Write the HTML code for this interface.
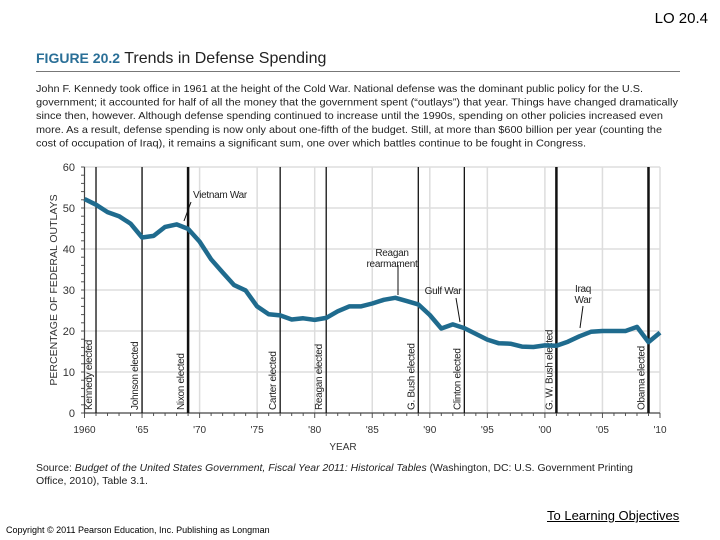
<!DOCTYPE html>
<html><head><meta charset="utf-8"><style>
body{margin:0;width:720px;height:540px;background:#fff;position:relative;overflow:hidden;font-family:"Liberation Sans",sans-serif}
.abs{position:absolute}
</style></head><body>
<div class="abs" style="right:12px;top:10px;font-size:15px;color:#000">LO 20.4</div>
<div class="abs" style="left:36px;top:50px;font-size:16px"><b style="color:#2a6f97;font-size:14px">FIGURE 20.2</b> <span style="color:#222">Trends in Defense Spending</span></div>
<div class="abs" style="left:36px;top:71px;width:644px;height:1px;background:#777"></div>
<svg class="abs" style="left:0;top:0" width="720" height="540" id="chart"></svg>
<div class="abs" style="left:547px;top:508px;font-size:13px;text-decoration:underline;color:#000">To Learning Objectives</div>
<div class="abs" style="left:6px;top:525px;font-size:9px;color:#000">Copyright © 2011 Pearson Education, Inc. Publishing as Longman</div>
<script>
const years=[1960,1961,1962,1963,1964,1965,1966,1967,1968,1969,1970,1971,1972,1973,1974,1975,1976,1977,1978,1979,1980,1981,1982,1983,1984,1985,1986,1987,1988,1989,1990,1991,1992,1993,1994,1995,1996,1997,1998,1999,2000,2001,2002,2003,2004,2005,2006,2007,2008,2009,2010];
const pct=[52.2,50.8,49.0,48.0,46.2,42.8,43.2,45.4,46.0,44.9,41.8,37.5,34.3,31.2,29.9,26.0,24.1,23.8,22.8,23.1,22.7,23.2,24.8,26.0,26.0,26.7,27.6,28.1,27.3,26.5,23.9,20.6,21.6,20.7,19.3,17.9,17.0,16.9,16.2,16.1,16.5,16.4,17.4,18.7,19.8,20.0,20.0,20.0,21.0,17.3,19.6];
const eventYears=[1961,1965,1969,1977,1981,1989,1993,2001,2009];
const eventLabels=["Kennedy elected","Johnson elected","Nixon elected","Carter elected","Reagan elected","G. Bush elected","Clinton elected","G. W. Bush elected","Obama elected"];
const yTicks=[0,10,20,30,40,50,60];
const xTicks=[1960,1965,1970,1975,1980,1985,1990,1995,2000,2005,2010];
const xTickLabels=["1960","'65","'70","'75","'80","'85","'90","'95","'00","'05","'10"];
const X=y=>84.5+(y-1960)*11.51, Y=v=>413-v*4.1;
const svg=document.getElementById('chart'),NS='http://www.w3.org/2000/svg';
function mk(t,a,txt){const e=document.createElementNS(NS,t);for(const k in a)e.setAttribute(k,a[k]);if(txt!==undefined)e.textContent=txt;svg.appendChild(e);return e;}
const F='"Liberation Sans",sans-serif';
const cap=[["John F. Kennedy took office in 1961 at the height of the Cold War. National defense was the dominant public policy for the U.S.",607],
["government; it accounted for half of all the money that the government spent (\u201coutlays\u201d) that year. Things have changed dramatically",642],
["since then, however. Although defense spending continued to increase until the 1990s, spending on other policies increased even",627],
["more. As a result, defense spending is now only about one-fifth of the budget. Still, at more than $600 billion per year (counting the",626],
["cost of occupation of Iraq), it remains a significant sum, one over which battles continue to be fought in Congress.",550]];
cap.forEach((c,i)=>{const t=mk('text',{x:36,y:92+i*13.6,'font-size':10.5,fill:'#222','font-family':F,textLength:c[1],lengthAdjust:'spacingAndGlyphs'},c[0]);});
const src=mk('text',{x:36,y:471,'font-size':10.5,fill:'#222','font-family':F,textLength:597,lengthAdjust:'spacingAndGlyphs'});
src.innerHTML='Source: <tspan font-style="italic">Budget of the United States Government, Fiscal Year 2011: Historical Tables</tspan> (Washington, DC: U.S. Government Printing';
const src2=mk('text',{x:36,y:484,'font-size':10.5,fill:'#222','font-family':F,textLength:112,lengthAdjust:'spacingAndGlyphs'},'Office, 2010), Table 3.1.');
yTicks.forEach(v=>{if(v>0){const g=mk('line',{x1:84.5,x2:X(2010),y1:Y(v),y2:Y(v),stroke:'#ddd','stroke-width':1.5});}
 const t=mk('text',{x:75,y:Y(v)+4,'text-anchor':'end','font-size':11,fill:'#333','font-family':F},v);});
xTicks.forEach((yr,i)=>{if(i>0){const g=mk('line',{x1:X(yr),x2:X(yr),y1:Y(60),y2:Y(0),stroke:'#ddd','stroke-width':1.5});}
 const t=mk('text',{x:X(yr),y:433,'text-anchor':'middle','font-size':10,fill:'#333','font-family':F},xTickLabels[i]);});
for(let yr=1960;yr<=2010;yr++){const m=mk('line',{x1:X(yr),x2:X(yr),y1:Y(0),y2:Y(0)+(yr%5?3:5),stroke:'#555'});}
for(let v=0;v<=60;v+=2){const m=mk('line',{x1:84.5,x2:81,y1:Y(v),y2:Y(v),stroke:'#555'});}
const ax=mk('path',{d:`M84.5 ${Y(60)}V${Y(0)}H${X(2010)}`,fill:'none',stroke:'#444','stroke-width':1.2});
eventYears.forEach((yr,i)=>{const th=(yr==1969||yr==2001||yr==2009)?2.5:1.3;
 const l=mk('line',{x1:X(yr),x2:X(yr),y1:Y(60),y2:Y(0),stroke:'#111','stroke-width':th});
 const tx=X(yr)-4, ty=Y(0)-3;
 const t=mk('text',{x:0,y:0,transform:`translate(${tx},${ty}) rotate(-90)`,'font-size':10,fill:'#222','font-family':F,'letter-spacing':'-0.3'},eventLabels[i]);});
const d=years.map((yr,i)=>(i?'L':'M')+X(yr).toFixed(1)+' '+Y(pct[i]).toFixed(1)).join('');
const ln=mk('path',{d,fill:'none',stroke:'#1f6b8e','stroke-width':4.5,'stroke-linejoin':'round'});
function ann(lines,x,y,ax1,ay1,ax2,ay2,name){lines.forEach((s,j)=>{const t=mk('text',{x,y:y+j*11,'text-anchor':'middle','font-size':10,fill:'#222','font-family':F,'letter-spacing':'-0.3'},s);});
 const a=mk('line',{x1:ax1,y1:ay1,x2:ax2,y2:ay2,stroke:'#111','stroke-width':1});}
ann(['Vietnam War'],220,198,191,202,184,221,'vietnam-war-annotation');
ann(['Reagan','rearmament'],392,256,398,265,398,295,'reagan-annotation');
ann(['Gulf War'],443,294,456,298,460,322,'gulf-war-annotation');
ann(['Iraq','War'],583,292,583,306,580,328,'iraq-war-annotation');
const yl=mk('text',{transform:`translate(57,290) rotate(-90)`,'text-anchor':'middle','font-size':10.5,fill:'#333','font-family':F},'PERCENTAGE OF FEDERAL OUTLAYS');
const xl=mk('text',{x:343,y:450,'text-anchor':'middle','font-size':10,fill:'#333','font-family':F},'YEAR');
</script>
</body></html>
